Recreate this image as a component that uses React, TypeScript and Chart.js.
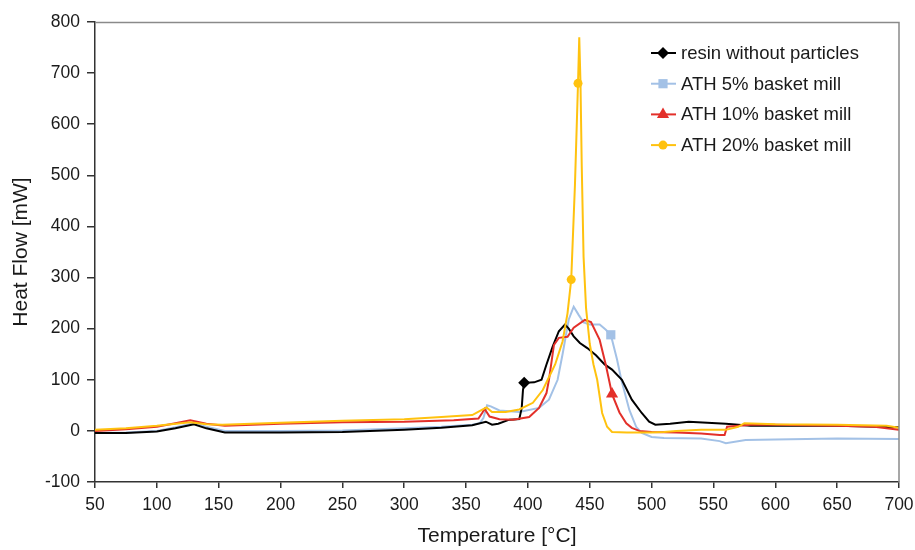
import React, { useEffect, useRef } from 'react';
import { Chart, registerables } from 'chart.js';

Chart.register(...registerables);

// [temperature °C, heat flow mW]
const resin: [number, number][] = [
  [50, -4], [75, -4], [100, -1], [115, 5], [130, 13], [140, 5], [155, -3], [200, -3], [250, -2], [300, 2],
  [330, 6], [355, 11], [366, 18], [371, 12], [376, 14], [385, 22], [393, 23], [395, 45], [396, 80], [397, 94],
  [405, 95], [411, 100], [415, 130], [420, 165], [425, 195], [430, 208], [433, 200], [437, 185], [442, 172],
  [448, 162], [455, 148], [462, 130], [468, 120], [476, 100], [484, 61], [492, 35], [498, 18], [503, 12],
  [515, 14], [530, 18], [545, 16], [560, 14], [580, 10], [600, 10], [650, 10], [700, 7],
];
const ath5: [number, number][] = [
  [50, -4], [75, -3], [100, 0], [115, 7], [130, 15], [140, 8], [155, 0], [200, 0], [250, 1], [300, 5],
  [330, 8], [355, 12], [361, 15], [364, 25], [367, 50], [370, 48], [377, 40], [393, 37], [409, 45], [417, 61],
  [424, 100], [428, 150], [433, 218], [437, 243], [441, 227], [445, 212], [450, 208], [458, 208], [463, 198],
  [467, 188], [472, 140], [475.5, 100], [482, 41], [487.5, 8], [492, -4], [500, -12], [510, -14], [540, -15],
  [555, -20], [560, -24], [576, -18], [600, -17], [650, -15], [700, -16],
];
const ath10: [number, number][] = [
  [50, 0], [75, 3], [100, 8], [115, 15], [127, 21], [140, 14], [155, 10], [200, 14], [250, 17], [300, 18],
  [340, 21], [360, 24], [363, 35], [365, 43], [369, 28], [377, 23], [388, 22], [401, 27], [409, 45], [415, 74],
  [417, 100], [421, 168], [425, 182], [432, 184], [437, 202], [446, 217], [451, 213], [458, 178], [463, 129],
  [468, 72], [474, 36], [479.5, 15], [484, 6], [490, 0], [500, -2], [520, -3], [540, -5], [555, -8], [559, -8],
  [561, 8], [580, 12], [600, 12], [650, 10], [680, 8], [700, 2],
];
const ath20: [number, number][] = [
  [50, 2], [75, 5], [100, 10], [127, 17], [140, 13], [153, 12], [200, 16], [250, 20], [300, 23], [330, 27],
  [355, 31], [362, 40], [366.5, 46], [371, 37], [382, 37], [393, 42], [404, 55], [412, 80], [416, 100], [422, 130],
  [428, 175], [432, 230], [435, 296], [438, 480], [440.5, 680], [441.5, 770], [442.5, 680], [443.5, 520], [445, 340],
  [447, 240], [450, 170], [453, 130], [456, 100], [460, 35], [464, 8], [468, -2], [480, -3], [500, -3], [510, -2],
  [520, 0], [540, 2], [560, 2], [570, 8], [575, 15], [600, 13], [650, 12], [690, 10], [700, 6],
];

const resinMarkers = [397];
const ath5Markers = [467];
const ath10Markers = [468];
const ath20Markers = [435, 440.5];

const seriesLabels = ['resin without particles', 'ATH 5% basket mill', 'ATH 10% basket mill', 'ATH 20% basket mill'];

const FONT = '"Liberation Sans", Arial, Helvetica, sans-serif';

type Style = 'rectRot' | 'rect' | 'triangle' | 'circle';

const seriesDefs: { label: string; data: [number, number][]; markers: number[]; color: string; style: Style; radius: number; order: number }[] = [
  { label: seriesLabels[0], data: resin, markers: resinMarkers, color: '#000000', style: 'rectRot', radius: 6, order: 3 },
  { label: seriesLabels[1], data: ath5, markers: ath5Markers, color: '#a3c1e6', style: 'rect', radius: 6.5, order: 4 },
  { label: seriesLabels[2], data: ath10, markers: ath10Markers, color: '#e3302a', style: 'triangle', radius: 7, order: 2 },
  { label: seriesLabels[3], data: ath20, markers: ath20Markers, color: '#ffc20f', style: 'circle', radius: 4.5, order: 1 },
];

function drawMarker(ctx: CanvasRenderingContext2D, style: Style, x: number, y: number, r: number, color: string) {
  ctx.fillStyle = color;
  ctx.beginPath();
  if (style === 'rectRot') {
    ctx.moveTo(x, y - r);
    ctx.lineTo(x + r, y);
    ctx.lineTo(x, y + r);
    ctx.lineTo(x - r, y);
    ctx.closePath();
  } else if (style === 'rect') {
    const s = r * Math.SQRT1_2;
    ctx.rect(x - s, y - s, 2 * s, 2 * s);
  } else if (style === 'triangle') {
    for (let k = 0; k < 3; k++) {
      const a = (k * 2 * Math.PI) / 3;
      const px = x + Math.sin(a) * r;
      const py = y - Math.cos(a) * r;
      if (k === 0) ctx.moveTo(px, py);
      else ctx.lineTo(px, py);
    }
    ctx.closePath();
  } else {
    ctx.arc(x, y, r, 0, Math.PI * 2);
  }
  ctx.fill();
}

const framePlugin = {
  id: 'frame',
  afterDatasetsDraw(chart: any) {
    const { ctx, chartArea } = chart;
    ctx.save();
    ctx.strokeStyle = '#8a8a8a';
    ctx.lineWidth = 1.5;
    ctx.beginPath();
    ctx.moveTo(chartArea.left, chartArea.top + 0.5);
    ctx.lineTo(chartArea.right, chartArea.top + 0.5);
    ctx.lineTo(chartArea.right, chartArea.bottom);
    ctx.stroke();
    ctx.restore();
  },
};

const legendPlugin = {
  id: 'lineLegend',
  afterDraw(chart: any) {
    const ctx = chart.ctx as CanvasRenderingContext2D;
    ctx.save();
    seriesDefs.forEach((s, i) => {
      const y = 53 + i * 30.7;
      ctx.strokeStyle = s.color;
      ctx.lineWidth = 2;
      ctx.beginPath();
      ctx.moveTo(651, y);
      ctx.lineTo(676, y);
      ctx.stroke();
      drawMarker(ctx, s.style, 663, y, s.radius, s.color);
      ctx.fillStyle = '#1a1a1a';
      ctx.font = `18.5px ${FONT}`;
      ctx.textBaseline = 'middle';
      ctx.textAlign = 'left';
      ctx.fillText(s.label, 681, y + 1);
    });
    ctx.restore();
  },
};

export default function App() {
  const ref = useRef<HTMLCanvasElement | null>(null);

  useEffect(() => {
    document.body.style.margin = '0';
    const canvas = ref.current;
    if (!canvas) return;
    const chart = new Chart(canvas, {
      type: 'line',
      data: {
        datasets: seriesDefs.map((s) => ({
          label: s.label,
          data: s.data.map(([x, y]) => ({ x, y })),
          borderColor: s.color,
          backgroundColor: s.color,
          borderWidth: 2,
          tension: 0,
          fill: false,
          order: s.order,
          pointStyle: s.style,
          pointBackgroundColor: s.color,
          pointBorderColor: s.color,
          pointBorderWidth: 0,
          pointRadius: (c: any) => (c.raw && s.markers.includes(c.raw.x) ? s.radius : 0),
          pointHoverRadius: 0,
        })),
      },
      options: {
        animation: false,
        responsive: false,
        maintainAspectRatio: false,
        events: [],
        layout: { padding: { top: 22, right: 16, left: 0, bottom: 0 } },
        plugins: { legend: { display: false }, tooltip: { enabled: false } },
        scales: {
          x: {
            type: 'linear',
            min: 50,
            max: 700,
            ticks: { stepSize: 50, color: '#1a1a1a', font: { family: FONT, size: 17.5 }, padding: 7, maxRotation: 0 },
            grid: { drawOnChartArea: false, drawTicks: true, tickLength: 6, color: '#333333', lineWidth: 1.5 },
            border: { color: '#333333', width: 1.5 },
            title: {
              display: true,
              text: 'Temperature [°C]',
              color: '#1a1a1a',
              font: { family: FONT, size: 21 },
              padding: { top: 0, bottom: 1 },
            },
            afterFit: (s: any) => {
              s.height = 68;
              s.paddingLeft = 0;
              s.paddingRight = 0;
            },
          },
          y: {
            type: 'linear',
            min: -100,
            max: 800,
            ticks: { stepSize: 100, color: '#1a1a1a', font: { family: FONT, size: 17.5 }, padding: 7 },
            grid: { drawOnChartArea: false, drawTicks: true, tickLength: 8, color: '#333333', lineWidth: 1.5 },
            border: { color: '#333333', width: 1.5 },
            title: {
              display: true,
              text: 'Heat Flow [mW]',
              color: '#1a1a1a',
              font: { family: FONT, size: 21 },
              padding: { top: 9, bottom: 0 },
            },
            afterFit: (s: any) => {
              s.width = 95;
              s.paddingTop = 0;
              s.paddingBottom = 0;
            },
          },
        },
      } as any,
      plugins: [framePlugin, legendPlugin],
    });
    return () => chart.destroy();
  }, []);

  return (
    <div style={{ width: 915, height: 550 }}>
      <canvas ref={ref} width={915} height={550} style={{ display: 'block' }} />
    </div>
  );
}
